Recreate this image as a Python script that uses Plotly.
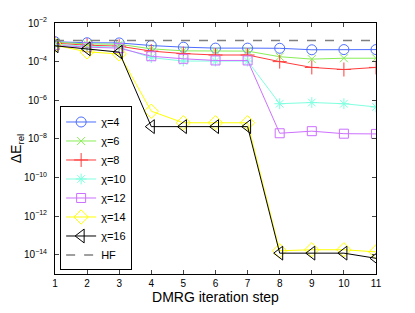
import plotly.graph_objects as go

steps = list(range(1, 12))
chi4 = [1.07e-3, 9.5e-4, 9.3e-4, 6.8e-4, 5.6e-4, 5.0e-4, 5.0e-4, 4.9e-4, 4.1e-4, 4.2e-4, 4.2e-4]
chi6 = [1.0e-3, 8.3e-4, 7.9e-4, 4.6e-4, 3.6e-4, 3.5e-4, 3.5e-4, 1.8e-4, 1.35e-4, 1.5e-4, 1.5e-4]
chi8 = [8.9e-4, 7.1e-4, 6.3e-4, 3.5e-4, 2.6e-4, 2.2e-4, 2.2e-4, 1.0e-4, 5.0e-5, 3.9e-5, 5.0e-5]
chi10 = [7.9e-4, 6.3e-4, 5.6e-4, 1.6e-4, 1.07e-4, 1.07e-4, 1.07e-4, 6.6e-7, 7.6e-7, 6.6e-7, 4.5e-7]
chi12 = [7.1e-4, 5.6e-4, 5.0e-4, 1.9e-4, 1.4e-4, 1.15e-4, 1.15e-4, 1.95e-8, 2.5e-8, 1.85e-8, 1.8e-8]
chi14 = [7.1e-4, 3.2e-4, 2.5e-4, 2.7e-7, 6.8e-8, 6.8e-8, 6.8e-8, 1.6e-14, 1.8e-14, 1.8e-14, 1.4e-14]
chi16 = [6.6e-4, 4.6e-4, 3.1e-4, 4.3e-8, 4.3e-8, 4.3e-8, 4.3e-8, 1.2e-14, 1.2e-14, 1.2e-14, 6.5e-15]
hf = [1.25e-3] * 11

series = [
    ("χ=4", chi4, "#4d6dff", "circle-open", 10),
    ("χ=6", chi6, "#88ee55", "x-thin-open", 8),
    ("χ=8", chi8, "#ff3b3b", "cross-thin-open", 10),
    ("χ=10", chi10, "#80ffe0", "asterisk-open", 9),
    ("χ=12", chi12, "#cc70ff", "square-open", 9),
    ("χ=14", chi14, "#ffff00", "diamond-open", 11),
    ("χ=16", chi16, "#000000", "triangle-left-open", 12),
]

ytickvals = [1e-2, 1e-4, 1e-6, 1e-8, 1e-10, 1e-12, 1e-14]
yticktext = ["10<sup>−2</sup>", "10<sup>−4</sup>", "10<sup>−6</sup>", "10<sup>−8</sup>",
             "10<sup>−10</sup>", "10<sup>−12</sup>", "10<sup>−14</sup>"]

fig = go.Figure()
for name, vals, col, sym, sz in series:
    fig.add_trace(go.Scatter(
        x=steps, y=vals, name=name, mode="lines+markers",
        line=dict(color=col, width=1),
        marker=dict(symbol=sym, size=sz, color=col, line=dict(color=col, width=1)),
    ))
fig.add_trace(go.Scatter(
    x=steps, y=hf, name="HF", mode="lines",
    line=dict(color="#808080", width=1.5, dash="dash"),
))

fig.update_layout(
    width=407, height=305,
    margin=dict(l=47, r=39, t=15, b=36),
    paper_bgcolor="white", plot_bgcolor="white",
    font=dict(family="Liberation Sans, Arial, sans-serif", color="black", size=10),
    showlegend=True,
    legend=dict(
        x=0.016, y=0.014, xanchor="left", yanchor="bottom",
        bordercolor="black", borderwidth=1, bgcolor="white",
        font=dict(size=11), tracegroupgap=0, itemwidth=30,
    ),
    xaxis=dict(
        range=[1, 11], tickvals=steps, ticks="inside", ticklen=4,
        showline=True, linecolor="black", linewidth=1, mirror="ticks",
        showgrid=False, zeroline=False, automargin=True,
        title=dict(text="DMRG iteration step", font=dict(size=14), standoff=2),
    ),
    yaxis=dict(
        type="log", range=[-15, -2], tickvals=ytickvals, ticktext=yticktext,
        ticks="inside", ticklen=4, ticklabelstandoff=5,
        showline=True, linecolor="black", linewidth=1, mirror="ticks",
        showgrid=False, zeroline=False, automargin=False,
        title=dict(text="ΔE<sub>rel</sub>", font=dict(size=14), standoff=0),
    ),
)

fig.write_html("out.html")
